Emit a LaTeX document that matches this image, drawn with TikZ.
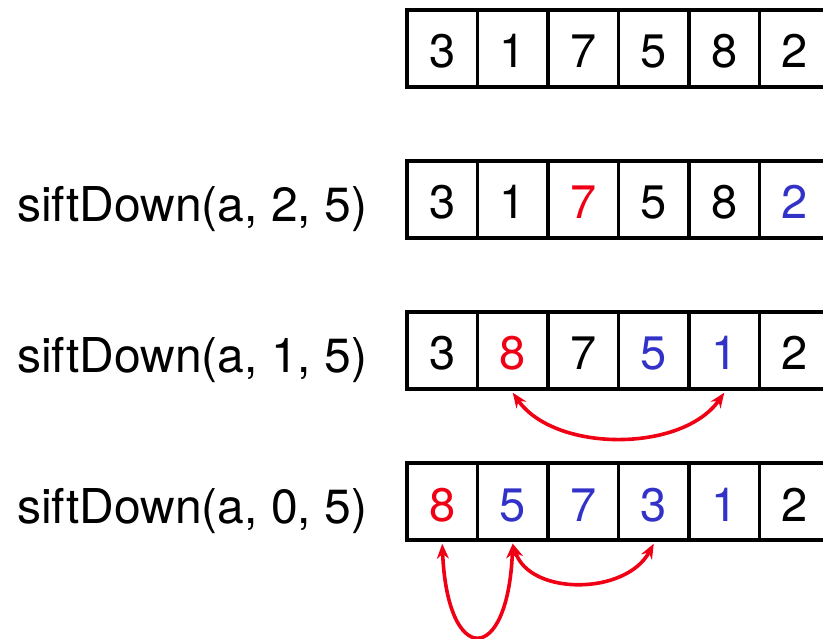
\documentclass[tikz,border=0pt]{standalone}
\usepackage{fontspec}
\setmainfont{TeX Gyre Heros}
\usetikzlibrary{arrows.meta}
\definecolor{hred}{RGB}{240,0,20}
\definecolor{hblue}{RGB}{50,50,200}
\begin{document}
\begin{tikzpicture}[x=1pt,y=-1pt,
  cell/.style={draw,line width=3.4pt,minimum width=70.5pt,minimum height=77pt,inner sep=0pt,
    text height=46pt,text depth=7pt,font=\fontsize{47}{56}\selectfont},
  lab/.style={anchor=base west,inner sep=0pt,font=\fontsize{48}{58}\selectfont},
  swap/.style={hred,line width=3.6pt,{Stealth[length=15pt,width=12pt]}-{Stealth[length=15pt,width=12pt]}}]
\useasboundingbox (0,0) rectangle (823,639);
\clip (0,0) rectangle (823,639);
% row 1
\foreach \v [count=\i from 0] in {3,1,7,5,8,2}
  \node[cell] (a\i) at (442.25+70.5*\i,48.5) {\v};
% row 2
\node[lab] (l2) at (17,221.5) {siftDown(a, 2, 5)};
\foreach \v/\c [count=\i from 0] in {3/black,1/black,7/hred,5/black,8/black,2/hblue}
  \node[cell,text=\c] (b\i) at (442.25+70.5*\i,199.5) {\v};
% row 3
\node[lab] (l3) at (17,372.5) {siftDown(a, 1, 5)};
\foreach \v/\c [count=\i from 0] in {3/black,8/hred,7/black,5/hblue,1/hblue,2/black}
  \node[cell,text=\c] (c\i) at (442.25+70.5*\i,350.5) {\v};
% row 4
\node[lab] (l4) at (17,523.5) {siftDown(a, 0, 5)};
\foreach \v/\c [count=\i from 0] in {8/hred,5/hblue,7/hblue,3/hblue,1/hblue,2/black}
  \node[cell,text=\c] (d\i) at (442.25+70.5*\i,501.5) {\v};
% arrows
\draw[swap] ([yshift=-2pt]c1.south) .. controls +(42,60) and +(-42,60) .. ([yshift=-2pt]c4.south);
\draw[swap] ([yshift=-2pt]d0.south) .. controls +(5,123) and +(-5,123) .. ([yshift=-2pt]d1.south);
\draw[swap] ([yshift=-2pt]d1.south) .. controls +(17,52) and +(-28,52) .. ([yshift=-2pt]d3.south);
\end{tikzpicture}
\end{document}
